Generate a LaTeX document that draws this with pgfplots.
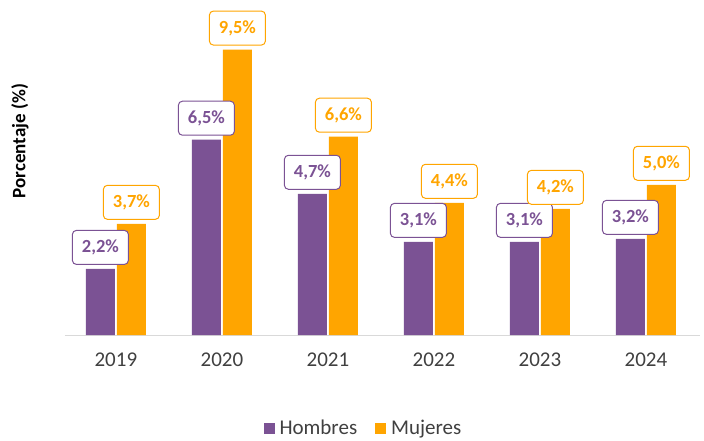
\documentclass[border=0pt]{standalone}
\usepackage{pgfplots}
\pgfplotsset{compat=1.18}
\usepackage{fontspec}
\setmainfont{Carlito}
\definecolor{hom}{HTML}{7B5294}
\definecolor{muj}{HTML}{FFA500}
\definecolor{txt}{HTML}{404040}
\definecolor{axl}{HTML}{D9D9D9}
\begin{document}
\begin{tikzpicture}
\path[use as bounding box] (0,0) rectangle (704pt,440pt);
\begin{axis}[
  at={(65pt,105pt)}, anchor=south west,
  scale only axis, width=635pt, height=335pt,
  ymin=0, ymax=11.15, xmin=-0.48, xmax=5.51,
  ybar=2pt, bar width=29pt,
  axis x line*=bottom, axis y line*=left,
  y axis line style={draw=none}, ytick=\empty,
  x axis line style={draw=axl, line width=1pt, -},
  xtick=data, xticklabels={2019,2020,2021,2022,2023,2024},
  xtick style={draw=none},
  xticklabel style={font=\fontsize{21}{24}\selectfont, text=txt, yshift=-10pt},
  /pgf/number format/assume math mode=true,
  ylabel={\textbf{Porcentaje (\%)}},
  ylabel style={at={(axis description cs:-0.0709,0.579)}, anchor=center, font=\fontsize{19}{22}\selectfont, text=black},
  nodes near coords={\pgfmathprintnumber[fixed,fixed zerofill,precision=1,use comma]{\pgfplotspointmeta}\%},
  every node near coord/.append style={font=\fontsize{18.5}{22}\selectfont\bfseries, draw, fill=white, rounded corners=4pt, minimum width=56pt, minimum height=34pt, line width=1pt, anchor=south, yshift=4pt, inner sep=2pt},
  legend style={at={(axis description cs:0.470,-0.2776)}, anchor=center, draw=none, legend columns=2, font=\fontsize{21}{24}\selectfont, text=txt, /tikz/every even column/.append style={column sep=16pt}, /tikz/every odd column/.append style={column sep=3pt}},
  legend image code/.code={\fill[#1] (0pt,-5.5pt) rectangle (11pt,5.5pt);},
  clip=false,
]
\addplot[fill=hom, draw=none, every node near coord/.append style={draw=hom, text=hom}] coordinates {(0,2.2) (1,6.5) (2,4.7) (3,3.1) (4,3.1) (5,3.2)};
\addplot[fill=muj, draw=none, every node near coord/.append style={draw=muj, text=muj}] coordinates {(0,3.7) (1,9.5) (2,6.6) (3,4.4) (4,4.2) (5,5.0)};
\legend{Hombres, Mujeres}
\end{axis}
\end{tikzpicture}
\end{document}
